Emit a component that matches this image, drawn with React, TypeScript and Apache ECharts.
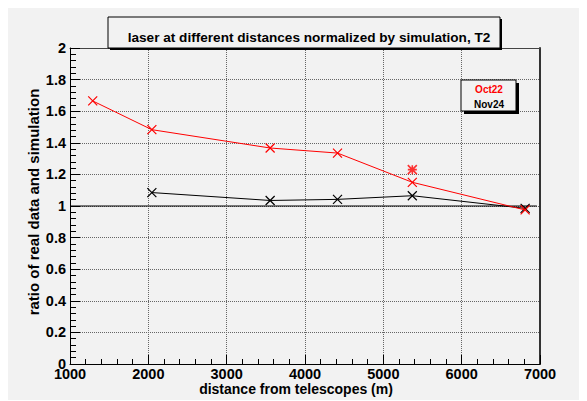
import React, { useEffect, useRef } from "react";
import * as echarts from "echarts";

const oct22X = [1290, 2045, 3555, 4415, 5370, 6810];
const oct22Y = [1.665, 1.483, 1.367, 1.335, 1.15, 0.975];
const oct22ExtraX = [5370];
const oct22ExtraY = [1.23];
const nov24X = [2045, 3555, 4415, 5370, 6810];
const nov24Y = [1.085, 1.035, 1.042, 1.065, 0.985];
const unityX = [1000, 6960];
const unityY = [1, 1];
const titleText = "laser at different distances normalized by simulation, T2";
const xTitle = "distance from telescopes (m)";
const yTitle = "ratio of real data and simulation";
const legendNames = ["Oct22", "Nov24"];

const FONT = "'Liberation Sans', Arial, sans-serif";
const CROSS = "path://M0,0L10,10M10,0L0,10";
const STAR = "path://M0,0L10,10M10,0L0,10M5,0L5,10M0,5L10,5";

const zip = (xs: number[], ys: number[]) => xs.map((x, i) => [x, ys[i]]);

export default function App() {
  const ref = useRef<HTMLDivElement>(null);
  useEffect(() => {
    if (!ref.current) return;
    const chart = echarts.init(ref.current, undefined, { renderer: "svg" });
    const labelStyle = { color: "#000", fontFamily: FONT, fontWeight: "bold" as const, fontSize: 14.5 };
    chart.setOption({
      animation: false,
      backgroundColor: "#f2f2f2",
      grid: { left: 62, right: 47, top: 40, bottom: 36, containLabel: false, outerBoundsMode: "none" },
      title: {
        text: titleText,
        left: 296,
        top: 17,
        textAlign: "center",
        textStyle: { ...labelStyle, fontSize: 13.6 },
        z: 20,
      },
      xAxis: [
        {
          type: "value",
          min: 1000,
          max: 7000,
          interval: 1000,
          name: xTitle,
          nameLocation: "middle",
          nameGap: 18,
          nameMoveOverlap: false,
          nameTextStyle: { ...labelStyle, fontSize: 14, padding: [0, 18, 0, 0] },
          axisLine: { show: true, onZero: false, lineStyle: { color: "#000", width: 1 } },
          axisTick: { show: true, inside: true, length: 9, lineStyle: { color: "#000" } },
          minorTick: { show: true, splitNumber: 5, length: 5, lineStyle: { color: "#000" } },
          axisLabel: { ...labelStyle, margin: 2, formatter: (v: number) => String(v) },
          splitLine: { show: true, lineStyle: { type: "dotted", color: "#666", width: 1 } },
        },
        {
          type: "value",
          position: "top",
          min: 1000,
          max: 7000,
          axisLine: { show: true, onZero: false, lineStyle: { color: "#444", width: 1 } },
          axisTick: { show: false },
          axisLabel: { show: false },
          splitLine: { show: false },
        },
      ],
      yAxis: [
        {
          type: "value",
          min: 0,
          max: 2,
          interval: 0.2,
          name: yTitle,
          nameLocation: "middle",
          nameGap: 29,
          nameMoveOverlap: false,
          nameTextStyle: { ...labelStyle, fontSize: 15, padding: [0, 0, 0, 8] },
          axisLine: { show: true, onZero: false, lineStyle: { color: "#000", width: 1 } },
          axisTick: { show: true, inside: true, length: 10, lineStyle: { color: "#000" } },
          minorTick: { show: true, splitNumber: 5, length: 6, lineStyle: { color: "#000" } },
          axisLabel: { ...labelStyle, margin: 4 },
          splitLine: { show: true, lineStyle: { type: "dotted", color: "#666", width: 1 } },
        },
        {
          type: "value",
          position: "right",
          min: 0,
          max: 2,
          axisLine: { show: true, onZero: false, lineStyle: { color: "#333", width: 2 } },
          axisTick: { show: false },
          axisLabel: { show: false },
          splitLine: { show: false },
        },
      ],
      series: [
        {
          name: "unity",
          type: "line",
          data: zip(unityX, unityY),
          showSymbol: false,
          symbol: "none",
          lineStyle: { color: "#000", width: 1 },
          z: 3,
        },
        {
          name: legendNames[1],
          type: "line",
          data: zip(nov24X, nov24Y),
          symbol: CROSS,
          symbolSize: 9,
          showSymbol: true,
          itemStyle: { color: "#000", borderColor: "#000", borderWidth: 1.2 },
          lineStyle: { color: "#000", width: 1 },
          z: 4,
        },
        {
          name: legendNames[0],
          type: "line",
          data: zip(oct22X, oct22Y),
          symbol: CROSS,
          symbolSize: 9,
          showSymbol: true,
          itemStyle: { color: "#ff0000", borderColor: "#ff0000", borderWidth: 1.2 },
          lineStyle: { color: "#ff0000", width: 1 },
          z: 5,
        },
        {
          name: legendNames[0] + " extra",
          type: "scatter",
          data: zip(oct22ExtraX, oct22ExtraY),
          symbol: STAR,
          symbolSize: 9,
          itemStyle: { color: "#ff0000", borderColor: "#ff0000", borderWidth: 1.6 },
          z: 5,
        },
      ],
      graphic: [
        { type: "rect", shape: { x: 102, y: 11, width: 392, height: 31 }, style: { fill: "#000" }, z: 10 },
        {
          type: "rect",
          shape: { x: 100, y: 9, width: 392, height: 31 },
          style: { fill: "#f2f2f2", stroke: "#000", lineWidth: 1 },
          z: 11,
        },
        { type: "rect", shape: { x: 456, y: 75, width: 55, height: 31 }, style: { fill: "#000" }, z: 10 },
        {
          type: "rect",
          shape: { x: 453, y: 72, width: 55, height: 31 },
          style: { fill: "#f2f2f2", stroke: "#000", lineWidth: 1 },
          z: 11,
        },
        {
          type: "text",
          x: 481,
          y: 81,
          style: {
            text: legendNames[0],
            fill: "#ff0000",
            font: "bold 10px 'Liberation Sans', Arial, sans-serif",
            textAlign: "center",
            textVerticalAlign: "middle",
          },
          z: 12,
        },
        {
          type: "text",
          x: 481,
          y: 96,
          style: {
            text: legendNames[1],
            fill: "#000",
            font: "bold 10px 'Liberation Sans', Arial, sans-serif",
            textAlign: "center",
            textVerticalAlign: "middle",
          },
          z: 12,
        },
      ],
    });
    return () => chart.dispose();
  }, []);
  return <div ref={ref} style={{ width: 579, height: 392 }} />;
}
